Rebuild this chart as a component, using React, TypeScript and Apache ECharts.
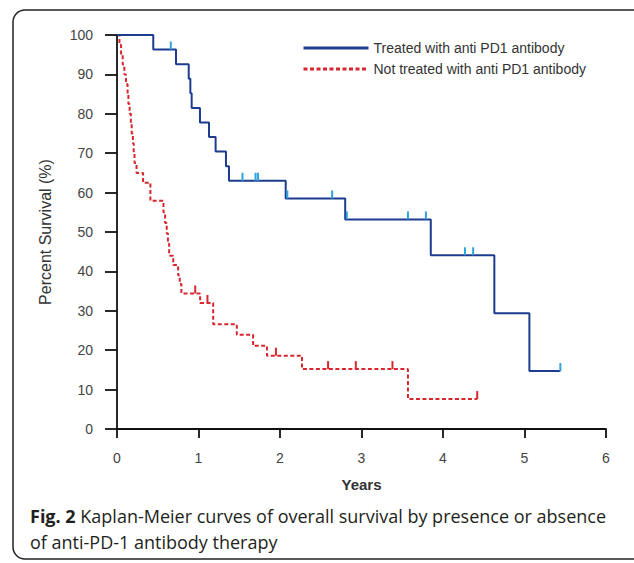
import React, { useEffect, useRef } from "react";
import * as echarts from "echarts";

const xTicks = [0, 1, 2, 3, 4, 5, 6];
const yTicks = [0, 10, 20, 30, 40, 50, 60, 70, 80, 90, 100];

const treatedName = "Treated with anti PD1 antibody";
const untreatedName = "Not treated with anti PD1 antibody";

const treatedTimes = [0, 0.445, 0.724, 0.88, 0.9, 0.916, 1.018, 1.129, 1.21, 1.337, 1.374, 2.07, 2.8, 3.85, 4.63, 5.06, 5.44];
const treatedSurv = [100, 96.3, 92.6, 88.9, 85.2, 81.5, 77.8, 74.1, 70.4, 66.7, 63.0, 58.5, 53.2, 44.1, 29.4, 14.7, 14.7];
const treatedCensor = [0.66, 1.54, 1.7, 1.73, 2.09, 2.64, 2.82, 3.57, 3.79, 4.27, 4.37, 5.44];

const untreatedTimes = [0, 0.03, 0.05, 0.07, 0.09, 0.11, 0.13, 0.14, 0.155, 0.17, 0.18, 0.195, 0.205, 0.215, 0.24, 0.32, 0.41, 0.57, 0.59, 0.61, 0.625, 0.64, 0.69, 0.75, 0.77, 0.79, 1.02, 1.18, 1.47, 1.67, 1.84, 2.27, 3.57, 4.42];
const untreatedSurv = [100, 97.5, 95, 92.5, 90, 87.5, 85, 82.5, 80, 77.5, 75, 72.5, 70, 67.5, 65, 62.5, 57.9, 55, 52.3, 49.6, 47, 44, 41.6, 39, 36.8, 34.4, 32.0, 26.6, 23.9, 21.1, 18.6, 15.2, 7.6, 7.6];
const untreatedCensor = [0.96, 1.11, 1.95, 2.59, 2.93, 3.38, 4.42];

const captionBold = "Fig. 2";
const captionLine1 = " Kaplan-Meier curves of overall survival by presence or absence";
const captionLine2 = "of anti-PD-1 antibody therapy";

const BLUE = "#1d3c8f";
const BLUE_CENSOR = "#2ea3dc";
const RED = "#d8262e";

function levelAt(times: number[], surv: number[], t: number) {
  let s = surv[0];
  for (let i = 0; i < times.length; i++) {
    if (times[i] <= t + 1e-9) s = surv[i];
  }
  return s;
}

function censorSeries(times: number[], surv: number[], censor: number[], color: string, name: string) {
  return {
    type: "custom",
    name,
    data: censor.map((t) => [t, levelAt(times, surv, t)]),
    renderItem: (params: any, api: any) => {
      const p = api.coord([api.value(0), api.value(1)]);
      return {
        type: "line",
        shape: { x1: p[0], y1: p[1], x2: p[0], y2: p[1] - 8 },
        style: { stroke: color, lineWidth: 2 },
      };
    },
    z: 5,
  };
}

export default function App() {
  const ref = useRef<HTMLDivElement>(null);
  useEffect(() => {
    if (!ref.current) return;
    const chart = echarts.init(ref.current, null, { renderer: "svg" });
    const axisFont = "Arial, 'Liberation Sans', sans-serif";
    chart.setOption({
      animation: false,
      backgroundColor: "#ffffff",
      grid: { left: 117, right: 28, top: 35, bottom: 134 },
      legend: {
        data: [treatedName, untreatedName],
        orient: "vertical",
        left: 297,
        top: 36,
        itemWidth: 65,
        itemHeight: 14,
        itemGap: 7,
        selectedMode: false,
        textStyle: { fontSize: 14, color: "#333", fontFamily: axisFont },
        lineStyle: { width: 3 },
        itemStyle: { opacity: 0 },
      },
      xAxis: {
        type: "value",
        min: 0,
        max: 6,
        interval: 1,
        name: "Years",
        nameLocation: "middle",
        nameGap: 48,
        nameTextStyle: { fontSize: 15, fontWeight: "bold", color: "#333", fontFamily: axisFont },
        axisLine: { lineStyle: { color: "#111", width: 1.8 } },
        axisTick: { length: 9, lineStyle: { color: "#111", width: 1.8 } },
        axisLabel: { margin: 22, fontSize: 14, color: "#444", fontFamily: axisFont, formatter: (v: number) => String(xTicks.indexOf(v) >= 0 ? v : "") },
        splitLine: { show: false },
      },
      yAxis: {
        type: "value",
        min: 0,
        max: 100,
        interval: 10,
        name: "Percent Survival (%)",
        nameLocation: "middle",
        nameGap: 64,
        nameTextStyle: { fontSize: 16, color: "#333", fontFamily: axisFont },
        axisLine: { show: true, lineStyle: { color: "#111", width: 1.8 } },
        axisTick: { show: true, length: 12, lineStyle: { color: "#111", width: 1.8 } },
        axisLabel: { margin: 24, fontSize: 14, color: "#444", fontFamily: axisFont, formatter: (v: number) => String(yTicks.indexOf(v) >= 0 ? v : "") },
        splitLine: { show: false },
      },
      series: [
        {
          type: "line",
          name: untreatedName,
          step: "end",
          symbol: "none",
          data: untreatedTimes.map((t, i) => [t, untreatedSurv[i]]),
          lineStyle: { color: RED, width: 2, type: [4, 2.5] },
          itemStyle: { color: RED },
          z: 3,
        },
        {
          type: "line",
          name: treatedName,
          step: "end",
          symbol: "none",
          data: treatedTimes.map((t, i) => [t, treatedSurv[i]]),
          lineStyle: { color: BLUE, width: 2 },
          itemStyle: { color: BLUE },
          z: 4,
        },
        censorSeries(treatedTimes, treatedSurv, treatedCensor, BLUE_CENSOR, "treatedCensor"),
        censorSeries(untreatedTimes, untreatedSurv, untreatedCensor, RED, "untreatedCensor"),
      ],
      graphic: [
        {
          type: "rect",
          shape: { x: 13, y: 10, width: 640, height: 549, r: 12 },
          style: { fill: "none", stroke: "#222", lineWidth: 1.5 },
          silent: true,
        },
        {
          type: "text",
          left: 30,
          top: 503,
          style: {
            text: "{b|" + captionBold + "}" + captionLine1 + "\n" + captionLine2,
            fontSize: 18,
            lineHeight: 26,
            fontFamily: "'Open Sans', sans-serif",
            fill: "#231f20",
            rich: {
              b: { fontWeight: "bold", fontSize: 18, fontFamily: "'Open Sans', sans-serif", fill: "#231f20" },
            },
          },
        },
      ],
    });
    return () => chart.dispose();
  }, []);
  return (
    <div
      ref={ref}
      style={{ position: "fixed", left: 0, top: 0, width: 634, height: 563, background: "#fff" }}
    />
  );
}
